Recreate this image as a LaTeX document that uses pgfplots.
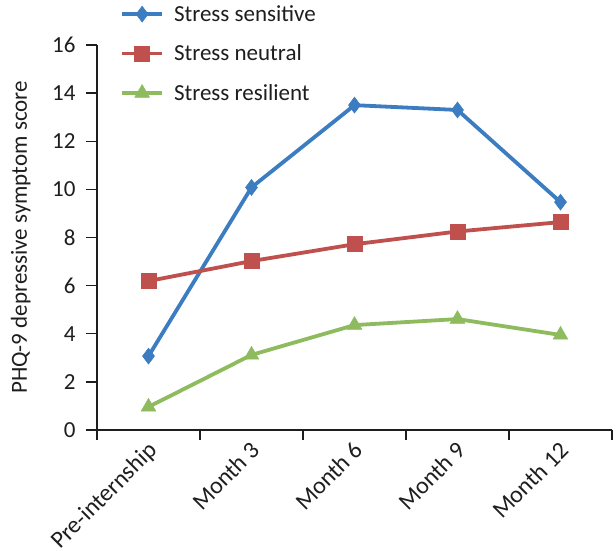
\documentclass[border=0pt]{standalone}
\usepackage{pgfplots}
\pgfplotsset{compat=1.18}
\usepackage{fontspec}
\setmainfont{Carlito}

\definecolor{sblue}{HTML}{3B7DC0}
\definecolor{sred}{HTML}{C0504D}
\definecolor{sgreen}{HTML}{8DBB5E}
\definecolor{axgray}{HTML}{1E1E1E}

\begin{document}
\begin{tikzpicture}
\begin{axis}[
    at={(0,0)}, anchor=south west,
    scale only axis,
    width=515pt, height=385pt,
    xmin=-0.5, xmax=4.5,
    ymin=0, ymax=16,
    axis x line*=bottom, axis y line*=left,
    axis line style={axgray, line width=1.6pt},
    every tick/.style={axgray, line width=1.4pt},
    tick align=outside,
    xtick={0,1,2,3,4},
    xticklabels={Pre-internship, Month 3, Month 6, Month 9, Month 12},
    major x tick style={draw=none},
    minor xtick={-0.5,0.5,1.5,2.5,3.5,4.5},
    minor tick length=10pt,
    major tick length=11pt,
    ytick={0,2,...,16},
    x tick label style={xshift=-2pt, yshift=1pt, rotate=45, anchor=north east,
        inner sep=0pt, font=\fontsize{24}{28}\selectfont},
    y tick label style={xshift=-7pt, font=\fontsize{23}{27}\selectfont},
    /pgf/number format/assume math mode=true,
    tick label style={text=axgray},
    ylabel={PHQ-9 depressive symptom score},
    ylabel style={at={(axis description cs:-0.122,0.5)}, anchor=south,
        font=\fontsize{23}{27}\selectfont, text=axgray},
    clip=false,
    legend cell align=left,
    legend style={draw=none, fill=none, at={(0.0447,1.1085)}, anchor=north west,
        font=\fontsize{23}{27}\selectfont, text=axgray,
        row sep=18pt, inner sep=0pt,
        nodes={inner sep=2pt},
        /tikz/every odd column/.append style={column sep=8pt}},
    legend image code/.code={
        \draw[mark repeat=2, mark phase=2] plot coordinates {(0pt,0pt) (20pt,0pt) (40pt,0pt)};
    },
]
\addplot[sblue, line width=3.8pt, mark=diamond*, mark size=8pt, mark options={solid, line width=0.5pt}]
    coordinates {(0,3.07) (1,10.08) (2,13.5) (3,13.3) (4,9.47)};
\addplot[sred, line width=3.8pt, mark=square*, mark size=7.5pt, mark options={solid, line width=0.5pt}]
    coordinates {(0,6.19) (1,7.02) (2,7.72) (3,8.25) (4,8.64)};
\addplot[sgreen, line width=3.8pt, mark=triangle*, mark size=8.5pt, mark options={solid, line width=0.5pt}]
    coordinates {(0,0.96) (1,3.12) (2,4.36) (3,4.61) (4,3.95)};
\legend{Stress sensitive, Stress neutral, Stress resilient}
\end{axis}
\pgfresetboundingbox
\path (-97pt,-121pt) rectangle (519pt,430pt);
\end{tikzpicture}
\end{document}
